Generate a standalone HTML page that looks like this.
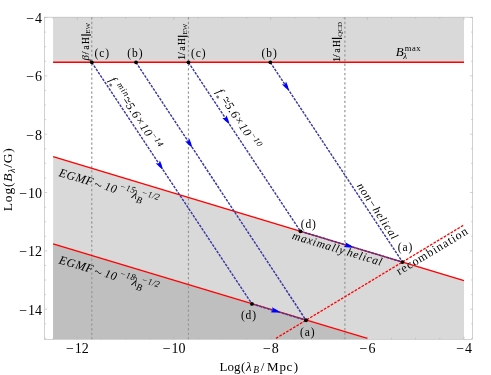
<!DOCTYPE html>
<html><head><meta charset="utf-8"><title>plot</title>
<style>
html,body{margin:0;padding:0;background:#fff;}
body{width:491px;height:375px;overflow:hidden;font-family:"Liberation Serif",serif;}
svg{display:block;will-change:transform;}
</style></head><body>
<svg width="491" height="375" viewBox="0 0 491 375">
<rect width="491" height="375" fill="#fff"/>
<rect x="53.10" y="17.20" width="410.90" height="45.08" fill="#d9d9d9"/>
<polygon points="53.10,156.64 464.00,280.61 464.00,338.90 53.10,338.90" fill="#d9d9d9"/>
<polygon points="53.10,243.92 367.31,338.90 53.10,338.90" fill="#bfbfbf"/>
<rect x="44.6" y="17.2" width="428.0" height="322.10" fill="none" stroke="#b4b4b4" stroke-width="0.6"/>
<path d="M53.10,339.3v-1.5M53.10,17.2v1.5M77.27,339.3v-2.6M77.27,17.2v2.6M101.44,339.3v-1.5M101.44,17.2v1.5M125.61,339.3v-1.5M125.61,17.2v1.5M149.78,339.3v-1.5M149.78,17.2v1.5M173.95,339.3v-2.6M173.95,17.2v2.6M198.12,339.3v-1.5M198.12,17.2v1.5M222.29,339.3v-1.5M222.29,17.2v1.5M246.46,339.3v-1.5M246.46,17.2v1.5M270.63,339.3v-2.6M270.63,17.2v2.6M294.80,339.3v-1.5M294.80,17.2v1.5M318.97,339.3v-1.5M318.97,17.2v1.5M343.14,339.3v-1.5M343.14,17.2v1.5M367.31,339.3v-2.6M367.31,17.2v2.6M391.48,339.3v-1.5M391.48,17.2v1.5M415.65,339.3v-1.5M415.65,17.2v1.5M439.82,339.3v-1.5M439.82,17.2v1.5M463.99,339.3v-2.6M463.99,17.2v2.6M44.6,338.37h1.5M472.6,338.37h-1.5M44.6,323.79h1.5M472.6,323.79h-1.5M44.6,309.20h2.6M472.6,309.20h-2.6M44.6,294.62h1.5M472.6,294.62h-1.5M44.6,280.03h1.5M472.6,280.03h-1.5M44.6,265.45h1.5M472.6,265.45h-1.5M44.6,250.86h2.6M472.6,250.86h-2.6M44.6,236.28h1.5M472.6,236.28h-1.5M44.6,221.69h1.5M472.6,221.69h-1.5M44.6,207.11h1.5M472.6,207.11h-1.5M44.6,192.52h2.6M472.6,192.52h-2.6M44.6,177.94h1.5M472.6,177.94h-1.5M44.6,163.35h1.5M472.6,163.35h-1.5M44.6,148.77h1.5M472.6,148.77h-1.5M44.6,134.18h2.6M472.6,134.18h-2.6M44.6,119.59h1.5M472.6,119.59h-1.5M44.6,105.01h1.5M472.6,105.01h-1.5M44.6,90.43h1.5M472.6,90.43h-1.5M44.6,75.84h2.6M472.6,75.84h-2.6M44.6,61.26h1.5M472.6,61.26h-1.5M44.6,46.67h1.5M472.6,46.67h-1.5M44.6,32.09h1.5M472.6,32.09h-1.5M44.6,17.50h2.6M472.6,17.50h-2.6" stroke="#b4b4b4" stroke-width="0.6" fill="none"/>
<line x1="91.77" y1="17.2" x2="91.77" y2="339.3" stroke="#979797" stroke-width="1.2" stroke-dasharray="2.3 2.34"/>
<line x1="188.45" y1="17.2" x2="188.45" y2="339.3" stroke="#979797" stroke-width="1.2" stroke-dasharray="2.3 2.34"/>
<line x1="344.88" y1="17.2" x2="344.88" y2="339.3" stroke="#979797" stroke-width="1.2" stroke-dasharray="2.3 2.34"/>
<line x1="53.10" y1="62.28" x2="464.00" y2="62.28" stroke="#f00" stroke-width="1.4"/>
<line x1="53.10" y1="156.64" x2="464.00" y2="280.61" stroke="#f00" stroke-width="1.4"/>
<line x1="53.10" y1="243.92" x2="367.31" y2="338.37" stroke="#f00" stroke-width="1.4"/>
<line x1="275.95" y1="338.37" x2="463.99" y2="224.90" stroke="#f00" stroke-width="1.3" stroke-dasharray="2.7 1.3"/>
<line x1="91.77" y1="62.28" x2="251.95" y2="303.91" stroke="#3939a2" stroke-width="1.45" stroke-dasharray="2.7 1.2"/>
<line x1="136.00" y1="62.28" x2="306.01" y2="320.23" stroke="#3939a2" stroke-width="1.45" stroke-dasharray="2.7 1.2"/>
<line x1="188.45" y1="62.28" x2="300.48" y2="231.28" stroke="#3939a2" stroke-width="1.45" stroke-dasharray="2.7 1.2"/>
<line x1="270.30" y1="62.28" x2="402.44" y2="262.04" stroke="#3939a2" stroke-width="1.45" stroke-dasharray="2.7 1.2"/>
<line x1="251.95" y1="303.91" x2="306.01" y2="320.23" stroke="#3939a2" stroke-width="1.45" stroke-dasharray="2.7 1.2"/>
<line x1="300.48" y1="231.28" x2="402.44" y2="262.04" stroke="#3939a2" stroke-width="1.45" stroke-dasharray="2.7 1.2"/>
<path transform="translate(159.86,165.00) rotate(56.46)" d="M5.30,0Q1.40,1.80 -3.70,2.50L-1.90,0L-3.70,-2.50Q1.40,-1.80 5.30,0Z" fill="#0000ff"/>
<path transform="translate(189.21,143.00) rotate(56.61)" d="M5.30,0Q1.40,1.80 -3.70,2.50L-1.90,0L-3.70,-2.50Q1.40,-1.80 5.30,0Z" fill="#0000ff"/>
<path transform="translate(226.45,119.60) rotate(56.46)" d="M5.30,0Q1.40,1.80 -3.70,2.50L-1.90,0L-3.70,-2.50Q1.40,-1.80 5.30,0Z" fill="#0000ff"/>
<path transform="translate(285.99,86.00) rotate(56.52)" d="M5.30,0Q1.40,1.80 -3.70,2.50L-1.90,0L-3.70,-2.50Q1.40,-1.80 5.30,0Z" fill="#0000ff"/>
<path transform="translate(274.80,310.81) rotate(16.79)" d="M5.30,0Q1.40,1.80 -3.70,2.50L-1.90,0L-3.70,-2.50Q1.40,-1.80 5.30,0Z" fill="#0000ff"/>
<path transform="translate(348.00,245.62) rotate(16.79)" d="M5.30,0Q1.40,1.80 -3.70,2.50L-1.90,0L-3.70,-2.50Q1.40,-1.80 5.30,0Z" fill="#0000ff"/>
<circle cx="91.77" cy="62.28" r="1.9" fill="#000"/>
<circle cx="136.00" cy="62.28" r="1.9" fill="#000"/>
<circle cx="188.45" cy="62.28" r="1.9" fill="#000"/>
<circle cx="270.30" cy="62.28" r="1.9" fill="#000"/>
<circle cx="251.95" cy="303.91" r="1.9" fill="#000"/>
<circle cx="306.01" cy="320.23" r="1.9" fill="#000"/>
<circle cx="300.48" cy="231.28" r="1.9" fill="#000"/>
<circle cx="402.44" cy="262.04" r="1.9" fill="#000"/>
<g font-family="Liberation Serif, serif" fill="#000">
<text x="77.47" y="353.10" font-size="14" text-anchor="middle">−<tspan dx="0.9">12</tspan></text>
<text x="174.15" y="353.10" font-size="14" text-anchor="middle">−<tspan dx="0.9">10</tspan></text>
<text x="270.83" y="353.10" font-size="14" text-anchor="middle">−<tspan dx="0.9">8</tspan></text>
<text x="367.51" y="353.10" font-size="14" text-anchor="middle">−<tspan dx="0.9">6</tspan></text>
<text x="464.19" y="353.10" font-size="14" text-anchor="middle">−<tspan dx="0.9">4</tspan></text>
<text x="42.00" y="23.10" font-size="14" text-anchor="end">−<tspan dx="0.9">4</tspan></text>
<text x="42.00" y="81.44" font-size="14" text-anchor="end">−<tspan dx="0.9">6</tspan></text>
<text x="42.00" y="139.78" font-size="14" text-anchor="end">−<tspan dx="0.9">8</tspan></text>
<text x="42.00" y="198.12" font-size="14" text-anchor="end">−<tspan dx="0.9">10</tspan></text>
<text x="42.00" y="256.46" font-size="14" text-anchor="end">−<tspan dx="0.9">12</tspan></text>
<text x="42.00" y="314.80" font-size="14" text-anchor="end">−<tspan dx="0.9">14</tspan></text>
<text y="370.6" font-size="13"><tspan x="219.5">Log</tspan><tspan x="241.1">(</tspan><tspan x="245.9" font-style="italic">λ</tspan><tspan x="253.2" dy="2.2" font-size="9.5" font-style="italic">B</tspan><tspan x="260.7" dy="-2.2">/</tspan><tspan x="267.0">M</tspan><tspan x="279.5">p</tspan><tspan x="286.5">c</tspan><tspan x="293.8">)</tspan></text>
<text transform="translate(12.30,179.30) rotate(-90.00)" font-size="13.5" text-anchor="middle" letter-spacing="0.8">Log(<tspan font-style="italic">B</tspan><tspan font-style="italic" font-size="9.5" dy="2.2">λ</tspan><tspan dy="-2.2">/G)</tspan></text>
<text x="102.30" y="57.00" font-size="11.5" text-anchor="middle" letter-spacing="0.9">(c)</text>
<text x="135.35" y="57.00" font-size="11.5" text-anchor="middle" letter-spacing="0.9">(b)</text>
<text x="198.65" y="57.00" font-size="11.5" text-anchor="middle" letter-spacing="0.9">(c)</text>
<text x="269.65" y="57.00" font-size="11.5" text-anchor="middle" letter-spacing="0.9">(b)</text>
<text x="308.75" y="228.00" font-size="11.5" text-anchor="middle" letter-spacing="0.9">(d)</text>
<text x="405.45" y="250.80" font-size="11.5" text-anchor="middle" letter-spacing="0.9">(a)</text>
<text x="248.95" y="319.20" font-size="11.5" text-anchor="middle" letter-spacing="0.9">(d)</text>
<text x="307.75" y="335.60" font-size="11.5" text-anchor="middle" letter-spacing="0.9">(a)</text>
<text x="395.8" y="56.4" font-size="13" font-style="italic">B</text><text x="404.7" y="50.7" font-size="8.5" letter-spacing="0.6">max</text><text x="403.2" y="58.9" font-size="8.7" font-style="italic">λ</text>
<g transform="translate(88.6,60.5) rotate(-90)">
<text x="0.0" y="0" font-size="11" font-style="italic">β</text>
<text x="6.1" y="0" font-size="10.5" stroke="#000" stroke-width="0.12">/</text>
<text transform="translate(11.0,0) scale(0.88,1)" font-size="10.5" stroke="#000" stroke-width="0.12">a</text>
<text transform="translate(16.5,0) scale(0.88,1)" font-size="10.5" stroke="#000" stroke-width="0.12">H</text>
<text x="26.8" y="1.4" font-size="7">EW</text>
<path d="M25.5,-7.5V2.3" stroke="#000" stroke-width="1.2" fill="none"/>
</g>
<g transform="translate(185.2,60.5) rotate(-90)">
<text x="0.6" y="0" font-size="10.5" stroke="#000" stroke-width="0.12">1</text>
<text x="5.2" y="0" font-size="10.5" stroke="#000" stroke-width="0.12">/</text>
<text transform="translate(10.1,0) scale(0.88,1)" font-size="10.5" stroke="#000" stroke-width="0.12">a</text>
<text transform="translate(15.6,0) scale(0.88,1)" font-size="10.5" stroke="#000" stroke-width="0.12">H</text>
<text x="25.9" y="1.7" font-size="7">EW</text>
<path d="M24.2,-7.4V2.5" stroke="#000" stroke-width="1.2" fill="none"/>
</g>
<g transform="translate(339.8,60.5) rotate(-90)">
<text x="-1.5" y="0" font-size="10.5" stroke="#000" stroke-width="0.12">1</text>
<text x="3.1" y="0" font-size="10.5" stroke="#000" stroke-width="0.12">/</text>
<text transform="translate(8.0,0) scale(0.88,1)" font-size="10.5" stroke="#000" stroke-width="0.12">a</text>
<text transform="translate(13.5,0) scale(0.88,1)" font-size="10.5" stroke="#000" stroke-width="0.12">H</text>
<text x="23.7" y="2.2" font-size="7">QCD</text>
<path d="M22.1,-8.0V2.2" stroke="#000" stroke-width="1.2" fill="none"/>
</g>
<g transform="translate(95.27,59.96) rotate(56.46)" font-style="italic">
<text x="24.3" y="0" font-size="12">f</text>
<text x="27.3" y="4.8" font-size="8">*</text>
<text x="32.6" y="-4.3" font-size="9" letter-spacing="0.55">min</text>
<path d="M48.9,-5.6c0.8840000000000001,-1.9 1.7160000000000002,-1.9 2.6,-0.3s1.7160000000000002,1.6 2.6,-0.3M48.9,-2.6h5.2" fill="none" stroke="#000" stroke-width="0.8"/>
<text x="54.8" y="0" font-size="12" letter-spacing="0.55">5.6×10</text>
<text x="93.0" y="-5.0" font-size="8.5" letter-spacing="0.4">−14</text>
</g>
<g transform="translate(193.70,58.80) rotate(56.46)" font-style="italic">
<text x="39.8" y="0" font-size="12">f</text>
<text x="42.8" y="4.8" font-size="8">*</text>
<path d="M50.1,-5.6c0.8840000000000001,-1.9 1.7160000000000002,-1.9 2.6,-0.3s1.7160000000000002,1.6 2.6,-0.3M50.1,-2.6h5.2" fill="none" stroke="#000" stroke-width="0.8"/>
<text x="56.0" y="0" font-size="12" letter-spacing="0.55">5.6×10</text>
<text x="94.3" y="-5.0" font-size="8.5" letter-spacing="0.4">−10</text>
</g>
<g transform="translate(356.40,186.01) rotate(56.46)" font-style="italic">
<text x="0" y="0" font-size="11.5" letter-spacing="0.87">non−helical</text>
</g>
<g transform="translate(291.43,238.78) rotate(16.79)" font-style="italic">
<text x="0" y="0" font-size="11.5" letter-spacing="0.8" word-spacing="-1.6">maximally helical</text>
</g>
<g transform="translate(399.37,275.34) rotate(-31.11)">
<text x="0" y="0" font-size="12" letter-spacing="0.97">recombination</text>
</g>
<g transform="translate(58.37,175.88) rotate(16.79)" font-style="italic">
<text x="0" y="0" font-size="12" letter-spacing="0.5">EGMF</text>
<path d="M37.4,-2.6c1.122,-1.3 2.178,-1.3 3.3,-0.2s2.178,1.1 3.3,-0.2" fill="none" stroke="#000" stroke-width="0.8"/>
<text x="47.3" y="0" font-size="12" letter-spacing="0.5">10</text>
<text x="62" y="-5.3" font-size="9" letter-spacing="0.3">−15</text>
<text x="76" y="0" font-size="12.5">λ</text>
<text x="81.5" y="3" font-size="9.5">B</text>
<text x="84.6" y="-5.6" font-size="9" letter-spacing="0.3">−1/2</text>
</g>
<g transform="translate(58.37,263.16) rotate(16.79)" font-style="italic">
<text x="0" y="0" font-size="12" letter-spacing="0.5">EGMF</text>
<path d="M37.4,-2.6c1.122,-1.3 2.178,-1.3 3.3,-0.2s2.178,1.1 3.3,-0.2" fill="none" stroke="#000" stroke-width="0.8"/>
<text x="47.3" y="0" font-size="12" letter-spacing="0.5">10</text>
<text x="62" y="-5.3" font-size="9" letter-spacing="0.3">−18</text>
<text x="76" y="0" font-size="12.5">λ</text>
<text x="81.5" y="3" font-size="9.5">B</text>
<text x="84.6" y="-5.6" font-size="9" letter-spacing="0.3">−1/2</text>
</g>
</g>
</svg>
</body></html>
